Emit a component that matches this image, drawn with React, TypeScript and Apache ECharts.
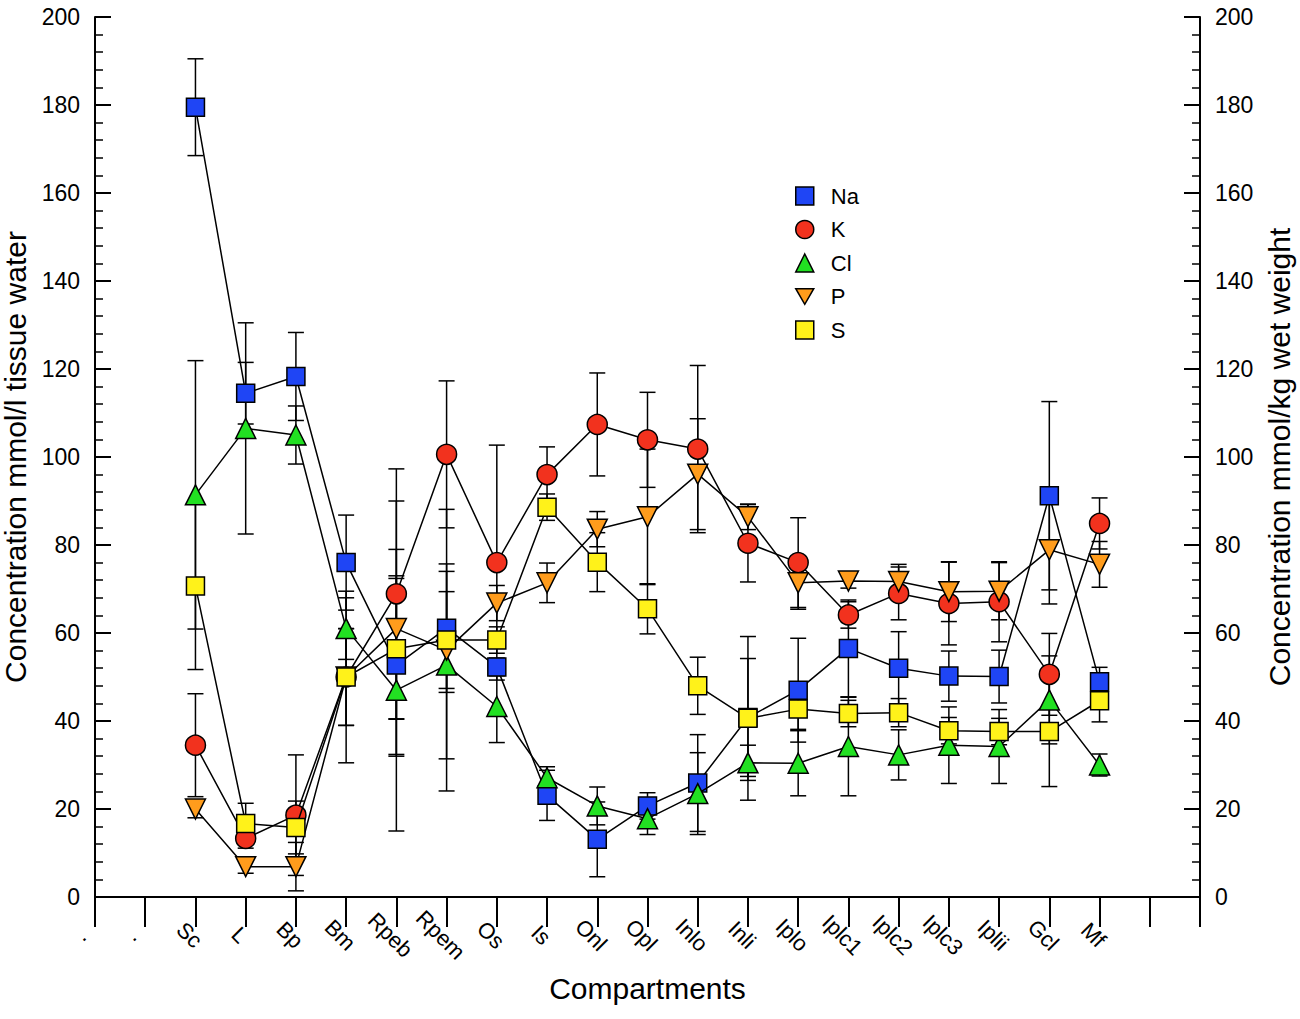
import React, { useEffect, useRef } from "react";
import * as echarts from "echarts";

const categories = [".", ".", "Sc", "L", "Bp", "Bm", "Rpeb", "Rpem", "Os", "Is", "Onl", "Opl", "Inlo", "Inli", "Iplo", "Iplc1", "Iplc2", "Iplc3", "Iplii", "Gcl", "Mf", "", ""];
// values for Sc .. Mf (category index 2..20)
const naValues = [179.5, 114.5, 118.3, 76.0, 52.7, 61.1, 52.3, 23.1, 13.1, 20.7, 25.9, 40.8, 47.0, 56.5, 52.0, 50.2, 50.1, 91.2, 48.9];
const naErrors = [11, 7, 10, 10.8, 20.3, 14.6, 2, 5.7, 8.5, 3, 11, 13.4, 11.8, 11, 8.3, 5.7, 6, 21.4, 3.3];
const kValues = [34.5, 13.3, 18.6, 50.0, 68.9, 100.6, 76.0, 96.0, 107.4, 103.9, 101.8, 80.4, 76.0, 64.1, 69.0, 66.7, 67.1, 50.6, 84.9];
const kErrors = [11.7, 2.2, 13.7, 19.5, 28.4, 16.7, 26.7, 6.3, 11.7, 10.8, 19, 8.8, 10.2, 3, 6, 9.4, 9.1, 9.3, 5.8];
const clValues = [91.4, 106.5, 105, 61, 47, 52.7, 43.3, 27.1, 20.7, 17.8, 23.5, 30.5, 30.4, 34.2, 32.3, 34.5, 34.2, 44.8, 30.0];
const clErrors = [30.5, 24, 6.6, 7, 32, 21.3, 8.2, 2.5, 4.3, 3.6, 9.3, 4, 7.4, 11.2, 5.7, 8.7, 8.4, 10, 2.5];
const pValues = [20, 6.9, 6.9, 50, 61, 56.1, 66.8, 71.4, 83.6, 86.4, 96.1, 86.4, 71.4, 71.8, 71.7, 69.4, 69.5, 78.9, 75.6];
const pErrors = [2, 1.5, 5.5, 11, 29, 32, 4, 4.5, 4, 15.4, 12.6, 2.9, 6, 1.6, 3.9, 6.8, 6.5, 12.3, 5.2];
const sValues = [70.7, 16.7, 15.8, 50, 56.4, 58.4, 58.4, 88.6, 76.1, 65.5, 48.0, 40.6, 42.7, 41.7, 41.9, 37.8, 37.6, 37.6, 44.6];
const sErrors = [19, 4.6, 6, 11, 16, 11, 3, 3, 6.7, 5.7, 6.5, 18.6, 4.6, 3, 3.2, 3, 3, 12.5, 4.8];
const firstIndex = 2;

const FONT = "'Liberation Sans', Arial, Helvetica, sans-serif";
const DOWN_TRI = "path://M0,0 L20,0 L10,17.32 Z";

function lineData(values: number[]) {
  const out: (number | null)[] = categories.map(() => null);
  values.forEach((v, i) => (out[firstIndex + i] = v));
  return out;
}
function errData(values: number[], errs: number[]) {
  return values.map((v, i) => [firstIndex + i, v - errs[i], v + errs[i]]);
}

const errStyle = { stroke: "#000", lineWidth: 1.5 };
function renderErr(params: any, api: any) {
  const x = api.value(0);
  const lo = api.coord([x, api.value(1)]);
  const hi = api.coord([x, api.value(2)]);
  const w = 8;
  return {
    type: "group",
    children: [
      { type: "line", shape: { x1: lo[0], y1: lo[1], x2: hi[0], y2: hi[1] }, style: errStyle },
      { type: "line", shape: { x1: hi[0] - w, y1: hi[1], x2: hi[0] + w, y2: hi[1] }, style: errStyle },
      { type: "line", shape: { x1: lo[0] - w, y1: lo[1], x2: lo[0] + w, y2: lo[1] }, style: errStyle },
    ],
  };
}

const seriesDefs = [
  { name: "Na", values: naValues, errors: naErrors, color: "#1f45f5", symbol: "rect", size: 18 },
  { name: "K", values: kValues, errors: kErrors, color: "#f2321e", symbol: "circle", size: 20 },
  { name: "Cl", values: clValues, errors: clErrors, color: "#22e022", symbol: "triangle", size: 20 },
  { name: "P", values: pValues, errors: pErrors, color: "#ff9c1c", symbol: DOWN_TRI, size: 20 },
  { name: "S", values: sValues, errors: sErrors, color: "#fff21a", symbol: "rect", size: 18 },
];

export default function App() {
  const ref = useRef<HTMLDivElement>(null);
  useEffect(() => {
    if (!ref.current) return;
    const chart = echarts.init(ref.current, undefined, { renderer: "svg" });
    const yAxisCommon = {
      type: "value",
      min: 0,
      max: 200,
      interval: 20,
      nameLocation: "middle",
      nameRotate: 90,
      nameTextStyle: { fontSize: 30, color: "#000", fontFamily: FONT },
      axisLine: { show: true, lineStyle: { color: "#000", width: 2 } },
      axisTick: { show: true, inside: true, length: 16, lineStyle: { color: "#000", width: 2 } },
      minorTick: { show: true, splitNumber: 5, length: 8, lineStyle: { color: "#000", width: 1.5 } },
      splitLine: { show: false },
      axisLabel: { fontSize: 23, color: "#000", fontFamily: FONT, margin: 15 },
    };
    const errSeries = seriesDefs.map((d) => ({
      name: d.name + " error",
      type: "custom",
      renderItem: renderErr,
      data: errData(d.values, d.errors),
      encode: { x: 0, y: [1, 2] },
      z: 1,
      silent: true,
    }));
    const lineSeries = seriesDefs.map((d, i) => ({
      name: d.name,
      type: "line",
      data: lineData(d.values),
      symbol: d.symbol,
      symbolSize: d.size,
      showAllSymbol: true,
      connectNulls: false,
      lineStyle: { color: "#000", width: 1.5 },
      itemStyle: { color: d.color, borderColor: "#000", borderWidth: 1.5 },
      z: 2 + i,
      emphasis: { disabled: true },
    }));
    chart.setOption({
      animation: false,
      backgroundColor: "#fff",
      grid: { left: 95, right: 100, top: 17, bottom: 122, containLabel: false, outerBoundsMode: "none" },
      legend: {
        data: seriesDefs.map((d) => ({ name: d.name, icon: d.symbol })),
        orient: "vertical",
        left: 790,
        top: 180,
        itemWidth: 18,
        itemHeight: 18,
        itemGap: 11.5,
        itemStyle: { borderColor: "#000", borderWidth: 1.5 },
        textStyle: { fontSize: 22, color: "#000", fontFamily: FONT, padding: [0, 0, 0, 12] },
        selectedMode: false,
      },
      xAxis: [
        {
          type: "category",
          data: categories,
          boundaryGap: false,
          name: "Compartments",
          nameLocation: "middle",
          nameGap: 76,
          nameTextStyle: { fontSize: 30, color: "#000", fontFamily: FONT },
          axisLine: { show: true, lineStyle: { color: "#000", width: 2 } },
          axisTick: { show: true, inside: false, length: 30, interval: 0, lineStyle: { color: "#000", width: 2 } },
          axisLabel: {
            interval: 0,
            rotate: -45,
            align: "center",
            verticalAlign: "middle",
            margin: 44,
            padding: [17, 17, 0, 0],
            fontSize: 22,
            color: "#000",
            fontFamily: FONT,
          },
          splitLine: { show: false },
        },
        {
          type: "category",
          data: categories,
          boundaryGap: false,
          position: "top",
          axisLine: { show: true, lineStyle: { color: "#000", width: 2 } },
          axisTick: { show: false },
          axisLabel: { show: false },
          splitLine: { show: false },
        },
      ],
      yAxis: [
        { ...yAxisCommon, position: "left", name: "Concentration mmol/l tissue water", nameGap: 54 },
        { ...yAxisCommon, position: "right", name: "Concentration mmol/kg wet weight", nameGap: 61 },
      ],
      series: [...errSeries, ...lineSeries],
    });
    return () => chart.dispose();
  }, []);
  return <div ref={ref} style={{ position: "fixed", left: 0, top: 0, width: 1300, height: 1019 }} />;
}
